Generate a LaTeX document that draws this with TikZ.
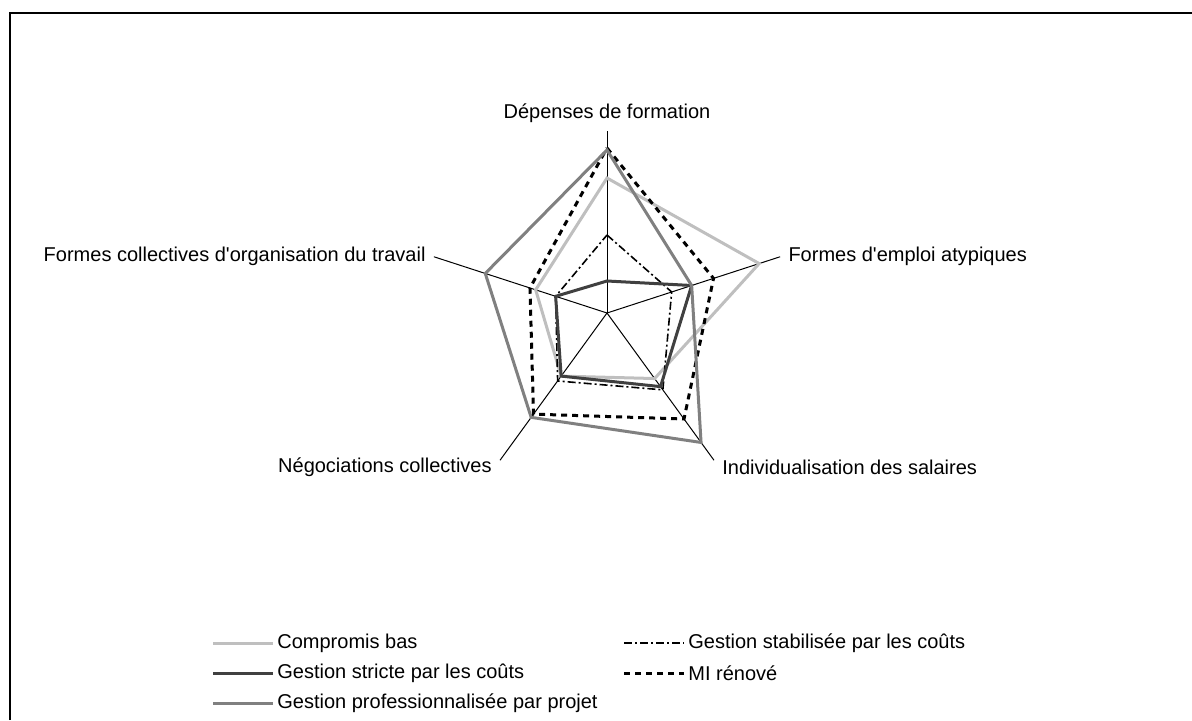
\documentclass[tikz,border=0pt]{standalone}
\usepackage{fontspec}
\setmainfont{Liberation Sans}[Ligatures=TeXOff]
\usetikzlibrary{positioning}

\begin{document}
\begin{tikzpicture}[x=0.5pt,y=0.5pt,font=\fontsize{10}{12}\selectfont]
    \tikzstyle{axis}=[draw=black,line width=0.5pt]
    \tikzstyle{annot}=[inner sep=2pt]
    \tikzstyle{compromis}=[draw=black!25,line width=1.5pt]
    \tikzstyle{stricte}=[draw=black!75,line width=1.5pt]
    \tikzstyle{projet}=[draw=black!50,line width=1.5pt]
    \tikzstyle{stabilisee}=[draw=black,line width=0.8pt,dash pattern=on 4pt off 1.5pt on 1pt off 1.5pt]
    \tikzstyle{renove}=[draw=black,line width=1.5pt,dash pattern=on 3pt off 2.5pt]
    \def\rmax{182}

    \useasboundingbox (0,0) rectangle (1192,720);

    % Draw the frame (only its top and left edges are in the picture)
    \draw[line width=1pt] (10,0) -- (10,707) -- (1192,707);

    % Centre of the radar
    \coordinate (O) at (607,407);

    % Draw the axes
    \foreach \i / \ang in {1/90,2/18,3/-54,4/234,5/162}
    {
        \path (O) ++(\ang:\rmax) coordinate (A-\i);
        \draw[axis] (O) -- (A-\i);
    }

    % Annotate the axes
    \node[annot,above=2pt of A-1] (lab-1) {Dépenses de formation};
    \node[annot,right=2pt of A-2] (lab-2) {Formes d'emploi atypiques};
    \node[annot,right=2pt of A-3,yshift=-3.5pt] (lab-3) {Individualisation des salaires};
    \node[annot,left=2pt of A-4,yshift=-3.5pt] (lab-4) {Négociations collectives};
    \node[annot,left=2pt of A-5] (lab-5) {Formes collectives d'organisation du travail};

    % Draw the series, one polygon each
    \foreach \s / \st / \vals in {cb/compromis/{135,160,81,78,75},
                                  gsb/stabilisee/{78,68,95,84,54},
                                  gsc/stricte/{32,89,91,78,54},
                                  mir/renove/{165,112,131,125,81},
                                  gpp/projet/{163,89,160,129,128}}
    {
        \foreach \v [count=\i] in \vals
            \path (O) ++({90-72*(\i-1)}:\v) coordinate (\s-\i);
        \draw[\st,line join=miter] (\s-1) -- (\s-2) -- (\s-3) -- (\s-4) -- (\s-5) -- cycle;
    }

    % Legend
    \foreach \name / \st / \x / \y / \txt in {
        cb/compromis/213/77/Compromis bas,
        gsb/stabilisee/624/77/Gestion stabilisée par les coûts,
        gsc/stricte/213/47/Gestion stricte par les coûts,
        mir/renove/624/47/MI rénové,
        gpp/projet/213/17/Gestion professionnalisée par projet}
    {
        \coordinate (key-\name-a) at (\x,\y);
        \coordinate (key-\name-b) at (\x+60,\y);
        \draw[\st] (key-\name-a) -- (key-\name-b);
        \node[annot,right=0pt of key-\name-b] (key-\name) {\txt};
    }

\end{tikzpicture}
\end{document}
